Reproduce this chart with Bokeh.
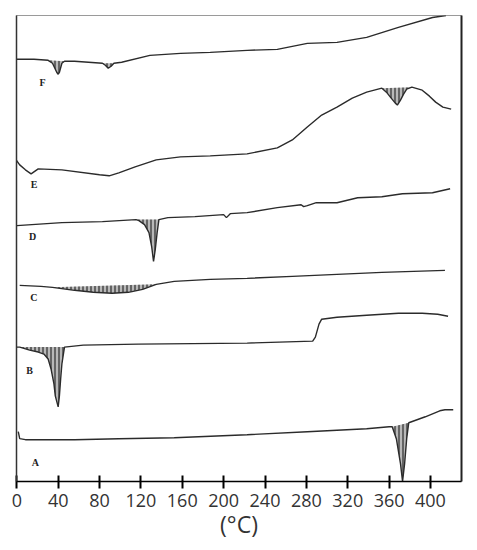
from bokeh.plotting import figure
from bokeh.models import LinearAxis, FixedTicker, Range1d
from bokeh.core.properties import value
from bokeh.embed import file_html
from bokeh.resources import INLINE

# Temperatures (deg C) and vertical signal (arbitrary units, offset curves)
a_t = [1.4, 2.8, 8.3, 55.8, 98.6, 152.2, 222.7, 280.9, 338.3, 360, 363, 367, 371, 373, 375, 377, 379, 395, 409, 414, 422]
a_y = [50, 43, 42, 42, 43, 44, 47, 50, 53, 55, 55, 43, 18, 0, 18, 43, 59, 65, 71, 72, 72]

b_t = [-1.4, 2.8, 12.4, 20.7, 26.2, 30.3, 33.1, 35.9, 37.2, 40, 41.2, 42.4, 43.6, 46.1, 64.2, 117.2, 222.7, 286.1, 288.7, 292.2, 294.8, 309.6, 338.3, 369, 392, 407, 417]
b_y = [135, 135, 132, 130, 128, 123, 113, 98, 86, 75, 86, 103, 118, 135, 137, 138, 139, 141, 145, 158, 163, 165, 167, 169, 169, 168, 166]

c_t = [2.8, 23.4, 34.5, 55.8, 73.9, 92.1, 107.9, 121.7, 134.8, 152.2, 187, 222.7, 266.4, 309.6, 353, 414]
c_y = [197, 196, 195, 192, 190, 189, 190, 193, 198, 201, 203, 204, 206, 208, 210, 212]

d_t = [0, 43.6, 82.8, 115.3, 118.1, 123.5, 127.8, 130.4, 132.2, 133.9, 135.7, 137.4, 146.1, 172.2, 200, 202.7, 206.4, 222.7, 251.9, 274.9, 277.4, 280.9, 289.6, 309.6, 329.6, 353, 372.9, 402, 419]
d_y = [257, 260, 261, 263, 262, 258, 250, 236, 221, 233, 250, 263, 265, 266, 268, 265, 269, 270, 275, 278, 276, 277, 280, 280, 285, 286, 289, 290, 294]

e_t = [-1.4, 2.8, 8.3, 13.8, 20.7, 43.6, 80, 89.3, 98.6, 114.4, 134.8, 158.3, 187, 222.7, 251.9, 266.4, 280.9, 294.8, 309.6, 324.4, 338.3, 353, 357.4, 362, 366, 368, 371, 374, 377, 382, 392, 399, 405, 412, 420]
e_y = [324, 318, 313, 309, 314, 313, 308, 307, 310, 316, 323, 326, 327, 329, 335, 343, 356, 368, 376, 385, 391, 395, 391, 385, 380, 378, 383, 389, 394, 396, 393, 387, 381, 376, 374]

f_t = [-1.4, 16.6, 30.3, 34.5, 38.6, 40, 41.2, 43.6, 46.1, 55.8, 82.8, 85.6, 88.4, 91.2, 93.9, 101.4, 128.7, 158.3, 187, 222.7, 251.9, 280.9, 309.6, 338.3, 369, 402, 415]
f_y = [424, 424, 423, 420, 411, 409, 411, 420, 422, 422, 420, 418, 415, 417, 420, 421, 428, 430, 431, 433, 434, 440, 441, 446, 456, 466, 468]

# Shaded (hatched) peak windows, in deg C
shade_a = [(363, 379)]
shade_b = [(2.8, 46.1)]
shade_c = [(34.5, 134.8)]
shade_d = [(115.3, 137.4)]
shade_e = [(353, 382)]
shade_f = [(30.3, 46.1), (82.8, 93.9)]

label_txt = ["A", "B", "C", "D", "E", "F"]
label_t = [17.9, 12.4, 16.6, 15.2, 16.6, 24.8]
label_y = [19, 111, 185, 246, 298, 401]

x_ticks = [0, 40, 80, 120, 160, 200, 240, 280, 320, 360, 400]

curves = [(a_t, a_y, shade_a), (b_t, b_y, shade_b), (c_t, c_y, shade_c),
          (d_t, d_y, shade_d), (e_t, e_y, shade_e), (f_t, f_y, shade_f)]

p = figure(width=469, height=542, output_backend="svg", toolbar_location=None,
           x_range=Range1d(-0.3, 430), y_range=Range1d(0, 468),
           min_border_left=16, min_border_right=8, min_border_top=15, min_border_bottom=59)
p.grid.visible = False
p.background_fill_color = "white"
p.border_fill_color = "white"
p.outline_line_color = "#9a9a9a"
p.outline_line_width = 1

# left border as an axis without ticks
p.yaxis.ticker = FixedTicker(ticks=[])
p.yaxis.axis_line_color = "#333333"
p.yaxis.axis_line_width = 1.5
p.yaxis.major_tick_line_color = None
p.yaxis.minor_tick_line_color = None
p.yaxis.major_label_standoff = 0

right = LinearAxis(ticker=FixedTicker(ticks=[]), axis_line_color="#222222", axis_line_width=2,
                   major_tick_line_color=None, minor_tick_line_color=None, major_label_standoff=0)
p.add_layout(right, "right")

xa = p.xaxis[0]
xa.ticker = FixedTicker(ticks=x_ticks)
xa.axis_line_color = "black"
xa.axis_line_width = 1.5
xa.major_tick_line_color = "black"
xa.major_tick_line_width = 2
xa.major_tick_in = 6
xa.major_tick_out = 7
xa.minor_tick_line_color = None
xa.major_label_text_font = "Open Sans"
xa.major_label_text_font_size = "18px"
xa.major_label_text_color = "#333333"
xa.major_label_standoff = 5
xa.axis_label = "(°C)"
xa.axis_label_text_font = "Open Sans"
xa.axis_label_text_font_size = "23px"
xa.axis_label_text_font_style = "normal"
xa.axis_label_text_color = "#333333"
xa.axis_label_standoff = -2

for t, y, windows in curves:
    for lo, hi in windows:
        xs = [ti for ti in t if lo <= ti <= hi]
        ys = [yi for ti, yi in zip(t, y) if lo <= ti <= hi]
        p.patch(xs, ys, fill_color="#b8b8b8", line_color=None,
                hatch_pattern="vertical_line", hatch_color="#2b2b2b",
                hatch_scale=4, hatch_weight=1.2)
for t, y, windows in curves:
    p.line(t, y, line_color="#2b2b2b", line_width=1.4)

p.text(x=label_t, y=label_y, text=label_txt, text_font=value("Liberation Serif"),
       text_font_style="bold", text_font_size="10px", text_align="center",
       text_baseline="middle", text_color="#222222")

open("out.html", "w").write(file_html(p, INLINE))
